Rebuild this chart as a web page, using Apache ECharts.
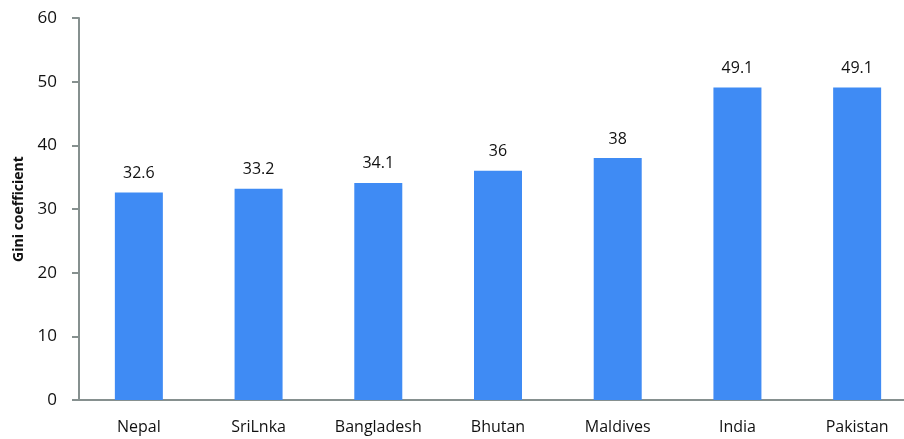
<!DOCTYPE html>
<html><head><meta charset="utf-8">
<script src="https://cdn.jsdelivr.net/npm/echarts@6/dist/echarts.min.js"></script>
<style>html,body{margin:0;padding:0;background:#fff}#c{width:904px;height:439px}</style>
</head><body><div id="c"></div>
<script>
const categories = ['Nepal','SriLnka','Bangladesh','Bhutan','Maldives','India','Pakistan'];
const giniValues = [32.6, 33.2, 34.1, 36, 38, 49.1, 49.1];
const yTitle = 'Gini coefficient';
const chart = echarts.init(document.getElementById('c'));
const font = 'Open Sans';
chart.setOption({
  animation: false,
  grid: {left: 79, top: 18, width: 838, height: 382, outerBoundsMode: 'none', containLabel: false},
  xAxis: {
    type: 'category', data: categories,
    axisLine: {lineStyle: {color: '#86908f', width: 2}},
    axisTick: {show: false},
    axisLabel: {color: '#111', fontSize: 16, fontFamily: font, margin: 19}
  },
  yAxis: {
    type: 'value', min: 0, max: 60, interval: 10,
    name: yTitle, nameLocation: 'middle', nameGap: 53, nameRotate: 90,
    nameTextStyle: {color: '#111', fontSize: 14, fontWeight: 'bold', fontFamily: font},
    axisLine: {show: true, lineStyle: {color: '#86908f', width: 2}},
    axisTick: {show: true, length: 7, lineStyle: {color: '#86908f', width: 2}},
    splitLine: {show: false},
    axisLabel: {color: '#111', fontSize: 17, fontFamily: font, margin: 22}
  },
  series: [{
    type: 'bar', data: giniValues, barWidth: 48,
    itemStyle: {color: '#3f8bf4'},
    label: {show: true, position: 'top', distance: 11, color: '#111', fontSize: 16, fontFamily: font}
  }]
});
</script></body></html>
